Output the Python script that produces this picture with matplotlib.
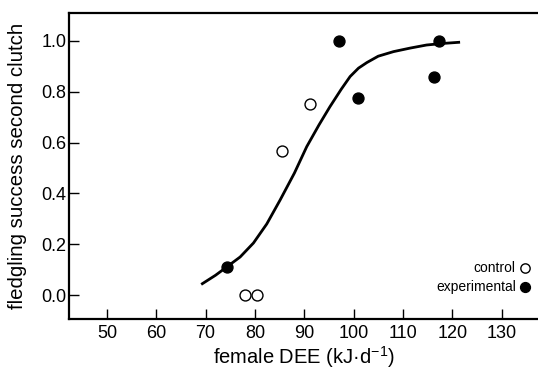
import matplotlib
matplotlib.use("Agg")
import matplotlib.pyplot as plt

plt.rcParams['font.family'] = ['Liberation Sans', 'DejaVu Sans']
plt.rcParams['mathtext.fontset'] = 'custom'
plt.rcParams['mathtext.rm'] = 'Liberation Sans'

# Data
control_x = [78.0, 80.5, 85.4, 91.2]
control_y = [0.0, 0.0, 0.567, 0.752]
exp_x = [74.3, 97.0, 100.8, 116.3, 117.3]
exp_y = [0.111, 1.0, 0.774, 0.857, 1.0]
curve_x = [69.1, 72.0, 74.3, 77.0, 79.7, 82.4, 85.1, 88.0, 90.5, 93.0, 95.2, 97.5, 99.3, 101.0, 102.7, 105.0, 108.1, 111.5, 114.8, 118.0, 121.6]
curve_y = [0.042, 0.078, 0.111, 0.150, 0.205, 0.280, 0.374, 0.480, 0.584, 0.670, 0.741, 0.810, 0.860, 0.893, 0.915, 0.940, 0.958, 0.972, 0.984, 0.990, 0.995]
xticks = [50, 60, 70, 80, 90, 100, 110, 120, 130]
yticks = [0.0, 0.2, 0.4, 0.6, 0.8, 1.0]

fig = plt.figure(figsize=(5.38, 3.69), dpi=100)
ax = fig.add_axes([0.1283, 0.1355, 0.8717, 0.8293])

ax.plot(curve_x, curve_y, color='black', lw=2.0, solid_capstyle='butt', zorder=2)
ax.scatter(control_x, control_y, s=62, facecolors='white', edgecolors='black', linewidths=1.0, zorder=3)
ax.scatter(exp_x, exp_y, s=62, facecolors='black', edgecolors='black', linewidths=1.0, zorder=3)

ax.set_xlim(42.3, 137.4)
ax.set_ylim(-0.094, 1.11)
ax.set_xticks(xticks)
ax.set_xticklabels([str(v) for v in xticks])
ax.set_yticks(yticks)
ax.set_yticklabels([f"{v:.1f}" for v in yticks])
ax.tick_params(direction='in', length=7.5, width=1.0, labelsize=13, colors='black')
ax.tick_params(axis='y', pad=2)
ax.tick_params(axis='x', pad=4)
for side in ['left', 'bottom', 'top']:
    ax.spines[side].set_linewidth(1.6)
ax.spines['right'].set_visible(False)

ax.set_xlabel("female DEE (kJ·d$^{\\mathrm{-1}}$)", fontsize=14.5, labelpad=2)
ax.set_ylabel("fledgling success second clutch", fontsize=14.7, labelpad=2)
ax.yaxis.set_label_coords(-0.09, 0.5)

# Legend (manual, right aligned)
ax.text(132.9, 0.106, "control", ha='right', va='center', fontsize=10)
ax.scatter([134.8], [0.106], s=45, facecolors='white', edgecolors='black', linewidths=1.0, clip_on=False)
ax.text(132.9, 0.031, "experimental", ha='right', va='center', fontsize=10)
ax.scatter([134.8], [0.031], s=50, facecolors='black', edgecolors='black', linewidths=1.0, clip_on=False)

fig.savefig("out.png", dpi=100)
